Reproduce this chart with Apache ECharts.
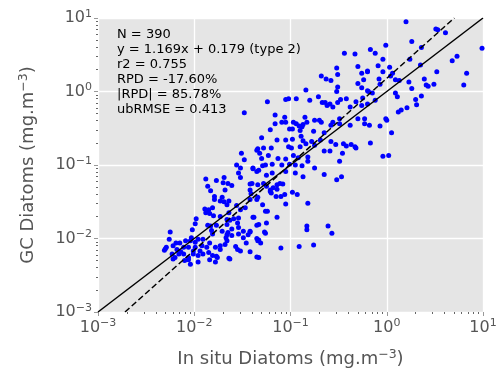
<!DOCTYPE html>
<html><head><meta charset="utf-8">
<script src="https://cdn.jsdelivr.net/npm/echarts@6/dist/echarts.min.js"></script>
<style>html,body{margin:0;padding:0;background:#fff}#c{width:500px;height:373px}</style>
</head><body><div id="c"></div>
<script>
// log10 of the values
const logInSitu = [
-1.51,-1.35,-1.48,-1.56,-1.52,-1.39,-1.33,-1.54,-1.52,-1.69,
-1.88,-1.77,-1.70,-1.65,-1.61,-1.42,-1.86,-1.83,-1.68,-1.79,
-1.71,-1.79,-1.73,-1.69,-1.64,-1.66,-1.56,-1.41,-1.42,-1.34,
-1.47,-1.89,-1.85,-1.81,-1.88,-1.84,-1.80,-1.73,-1.64,-1.52,
-1.39,-1.54,-1.59,-1.66,-1.83,-1.77,-1.63,-1.98,-2.02,-1.99,
-1.86,-1.71,-1.61,-1.66,-1.82,-1.55,-1.54,-1.49,-1.35,-2.25,
-2.03,-2.09,-2.04,-1.99,-1.96,-2.15,-2.19,-2.26,-2.22,-2.30,
-2.29,-2.18,-2.11,-2.06,-2.01,-1.92,-1.87,-1.84,-1.78,-1.73,
-1.68,-1.67,-1.66,-1.61,-1.57,-1.52,-1.46,-1.44,-1.42,-1.33,
-2.23,-2.20,-2.16,-2.11,-2.06,-2.01,-1.96,-1.91,-1.85,-1.81,
-1.76,-1.64,-1.63,-1.35,-2.10,-2.04,-1.96,-1.78,-2.14,-2.22,
-2.06,-1.99,-1.94,-1.91,-1.84,-1.77,-1.73,-1.66,-1.65,-1.55,
-1.54,-1.49,-1.42,-1.81,-2.31,-0.52,-0.30,-0.68,-0.51,-0.26,
-0.20,-0.63,-0.58,-0.51,-0.30,-0.26,-0.84,-0.52,-0.19,-1.24,
-1.05,-1.02,-0.94,-0.80,-0.71,-0.67,-0.64,-0.62,-0.59,-0.56,
-0.51,-0.48,-0.42,-0.38,-0.32,-1.16,-1.06,-1.05,-1.09,-1.16,
-0.97,-0.94,-0.91,-0.87,-0.85,-0.83,-0.75,-0.70,-0.68,-0.58,
-0.56,-0.49,-0.49,-0.38,-0.30,-0.23,-0.23,-1.21,-1.01,-0.98,
-0.90,-0.88,-0.76,-0.65,-1.30,-1.14,-1.05,-0.98,-0.89,-0.87,
-0.78,-0.69,-0.58,-0.53,-0.45,-0.37,-1.34,-1.28,-1.20,-1.02,
-0.99,-0.90,-0.84,-0.75,-0.65,-0.59,-0.46,-0.42,-0.33,-0.32,
-1.32,-1.30,-1.23,-1.13,-1.05,-0.97,-0.92,-0.82,-0.82,-0.49,
-1.39,-1.29,-1.26,-1.19,-1.09,-1.01,-0.95,-0.88,-0.75,-1.35,
-1.25,-1.19,-1.05,-0.95,-0.87,-0.65,-0.52,-0.47,-1.40,-1.34,
-1.28,-1.25,-1.21,-1.18,-1.14,-1.11,-1.08,-1.20,-1.15,-1.10,
-1.06,-0.98,-0.93,-1.35,-1.29,-1.05,-0.82,-1.42,-1.21,-1.14,
-1.26,-1.24,-1.38,-1.14,-1.33,-1.25,-1.42,-1.27,-1.26,-0.83,
-0.83,-0.61,-0.57,-1.35,-1.34,-1.31,-1.10,-0.91,-0.76,-1.33,
0.20,0.51,0.53,0.61,0.26,-0.01,0.36,0.99,-0.17,-0.12,
-0.04,0.24,0.68,0.73,-0.09,0.03,0.35,-0.20,-0.04,0.06,
0.04,0.52,0.83,-0.24,-0.08,0.09,0.13,0.23,0.39,-0.07,
0.26,0.41,0.43,0.49,0.80,-0.20,-0.15,0.09,0.11,0.36,
-0.25,-0.12,0.30,0.31,-0.20,-0.26,0.21,0.15,0.12,-0.01,
0.00,-0.18,-0.07,0.05,-0.17,-0.04,0.02,-0.44,-0.33,-1.48
];
const logGC = [
-0.84,-0.80,-0.93,-1.00,-1.04,-1.05,-1.07,-1.11,-1.17,-1.17,
-1.19,-1.21,-1.24,-1.25,-1.28,-1.26,-1.29,-1.35,-1.34,-1.43,
-1.44,-1.47,-1.49,-1.50,-1.49,-1.54,-1.55,-1.39,-1.47,-1.44,
-1.58,-1.60,-1.61,-1.58,-1.65,-1.66,-1.69,-1.70,-1.65,-1.61,
-1.71,-1.72,-1.73,-1.74,-1.83,-1.82,-1.75,-1.73,-1.88,-1.80,
-1.82,-1.90,-1.87,-1.81,-1.89,-1.79,-1.85,-1.90,-1.82,-1.91,
-1.99,-2.03,-2.03,-2.05,-2.01,-2.06,-2.06,-2.01,-2.10,-2.14,
-2.12,-2.15,-2.12,-2.12,-2.17,-2.10,-2.12,-2.06,-2.12,-2.10,
-2.08,-1.99,-1.95,-1.96,-2.11,-2.17,-2.06,-1.95,-1.91,-2.02,
-2.21,-2.26,-2.21,-2.21,-2.26,-2.21,-2.23,-2.21,-2.19,-2.23,
-2.26,-2.27,-2.28,-2.25,-2.30,-2.35,-2.32,-2.32,-2.18,-2.28,
-2.29,-2.12,-2.17,-2.01,-2.29,-2.24,-2.15,-2.03,-1.92,-2.15,
-1.94,-1.99,-2.18,-1.94,-2.16,0.32,0.34,0.21,0.23,0.25,
0.27,0.17,0.15,0.06,0.11,0.05,0.02,0.00,0.00,-0.14,
-0.11,-0.10,-0.10,-0.12,-0.07,-0.15,-0.15,-0.19,-0.17,-0.21,
-0.15,-0.11,-0.10,-0.21,-0.14,-0.32,-0.35,-0.42,-0.42,-0.44,
-0.42,-0.44,-0.47,-0.45,-0.35,-0.42,-0.39,-0.39,-0.42,-0.46,
-0.42,-0.37,-0.44,-0.46,-0.37,-0.37,-0.44,-0.52,-0.51,-0.51,
-0.53,-0.48,-0.54,-0.56,-0.63,-0.66,-0.66,-0.65,-0.61,-0.67,
-0.68,-0.66,-0.68,-0.72,-0.71,-0.72,-0.78,-0.77,-0.77,-0.75,
-0.77,-0.75,-0.71,-0.73,-0.81,-0.81,-0.84,-0.74,-0.75,-0.77,
-0.84,-0.91,-0.87,-0.91,-0.92,-0.87,-0.90,-0.89,-0.95,-0.95,
-1.04,-1.01,-1.00,-0.99,-1.00,-0.99,-1.00,-1.01,-1.04,-1.09,
-1.14,-1.11,-1.09,-1.11,-1.16,-1.13,-1.20,-1.16,-1.25,-1.27,
-1.25,-1.29,-1.34,-1.31,-1.27,-1.25,-1.26,-1.38,-1.43,-1.43,
-1.40,-1.37,-1.40,-1.47,-1.54,-1.53,-1.52,-1.34,-1.36,-1.33,
-1.63,-1.63,-1.71,-1.71,-1.81,-1.79,-1.90,-1.91,-1.93,-1.83,
-1.88,-1.83,-1.93,-2.00,-2.03,-2.06,-2.13,-2.11,-2.09,-2.26,
0.95,0.85,0.84,0.80,0.68,0.63,0.60,0.59,0.57,0.52,
0.44,0.44,0.42,0.48,0.35,0.33,0.36,0.28,0.27,0.25,
0.21,0.27,0.25,0.16,0.17,0.16,0.15,0.13,0.17,0.10,
0.04,0.09,0.07,0.10,0.09,0.01,-0.02,-0.02,-0.07,-0.06,
-0.09,-0.12,-0.11,-0.18,-0.17,-0.19,-0.22,-0.25,-0.28,-0.37,
-0.39,-0.46,-0.47,-0.56,-0.70,-0.88,-0.87,0.52,0.51,-0.29
];
const fitSlope = 1.169;      // type 2 regression in log10 space
const fitIntercept = 0.179;
const axisMin = 1e-3, axisMax = 10;
const statsLines = ['N = 390', 'y = 1.169x + 0.179 (type 2)', 'r2 = 0.755', 'RPD = -17.60%', '|RPD| = 85.78%', 'ubRMSE = 0.413'];
const xTitle = 'In situ Diatoms (mg.m';
const yTitle = 'GC Diatoms (mg.m';
const unitExp = '−3';

const FONT = '"DejaVu Sans", sans-serif';
const points = logInSitu.map((v, i) => [Math.pow(10, v), Math.pow(10, logGC[i])]);
const lmin = Math.log10(axisMin), lmax = Math.log10(axisMax);
const oneToOne = [[axisMin, axisMin], [axisMax, axisMax]];
const fitLine = [
  [Math.pow(10, (lmin - fitIntercept) / fitSlope), axisMin],
  [Math.pow(10, (lmax - fitIntercept) / fitSlope), axisMax]
];
const minorVals = [];
for (let e = lmin; e < lmax; e++) for (let m = 2; m <= 9; m++) minorVals.push(m * Math.pow(10, e));

function fmt(v) {
  const e = Math.round(Math.log10(v));
  return '{b|10}{s|' + (e < 0 ? '−' + (-e) : String(e)) + '}';
}
const tickRich = {
  b: { fontSize: 16, color: '#555', fontFamily: FONT },
  s: { fontSize: 11, color: '#555', fontFamily: FONT, padding: [0, 0, 8, 0] }
};
const nameRich = {
  t: { fontSize: 18, color: '#555', fontFamily: FONT },
  s: { fontSize: 12.5, color: '#555', fontFamily: FONT, padding: [0, 0, 9, 0] }
};
function mainAxis(name, gap) {
  return {
    type: 'log', logBase: 10, min: axisMin, max: axisMax,
    axisLine: { show: false },
    axisTick: { show: true, length: 4, lineStyle: { color: '#999' } },
    splitLine: { show: true, lineStyle: { color: '#fff', width: 1.3 } },
    axisLabel: { formatter: fmt, rich: tickRich, margin: 6 },
    name: '{t|' + name + '}{s|' + unitExp + '}{t|)}',
    nameLocation: 'middle', nameGap: gap, nameTextStyle: { rich: nameRich }
  };
}
function minorAxis(pos) {
  return {
    type: 'log', logBase: 10, min: axisMin, max: axisMax, position: pos,
    axisLine: { show: false }, axisLabel: { show: false }, splitLine: { show: false },
    axisTick: { show: true, length: 2, customValues: minorVals, lineStyle: { color: '#666' } }
  };
}
const chart = echarts.init(document.getElementById('c'), null, { renderer: 'canvas' });
chart.setOption({
  animation: false,
  backgroundColor: '#fff',
  grid: { left: 98, right: 17, top: 18, bottom: 58, show: true, backgroundColor: '#e5e5e5', borderWidth: 0 },
  xAxis: [mainAxis(xTitle, 36), minorAxis('bottom')],
  yAxis: [Object.assign(mainAxis(yTitle, 59), { nameRotate: 90 }), minorAxis('left')],
  graphic: [{
    type: 'text', left: 117, top: 27.5, z: 10,
    style: { text: statsLines.join('\n'), font: '13px ' + FONT, lineHeight: 14.9, fill: '#000' }
  }],
  series: [
    { type: 'scatter', data: points, symbolSize: 5, itemStyle: { color: '#0000ff', opacity: 1 }, z: 2 },
    { type: 'line', data: oneToOne, showSymbol: false, symbol: 'none', lineStyle: { color: '#000', width: 1.5 }, z: 3 },
    { type: 'line', data: fitLine, showSymbol: false, symbol: 'none', lineStyle: { color: '#000', width: 1.5, type: [6, 3] }, z: 3 }
  ]
});
</script></body></html>
